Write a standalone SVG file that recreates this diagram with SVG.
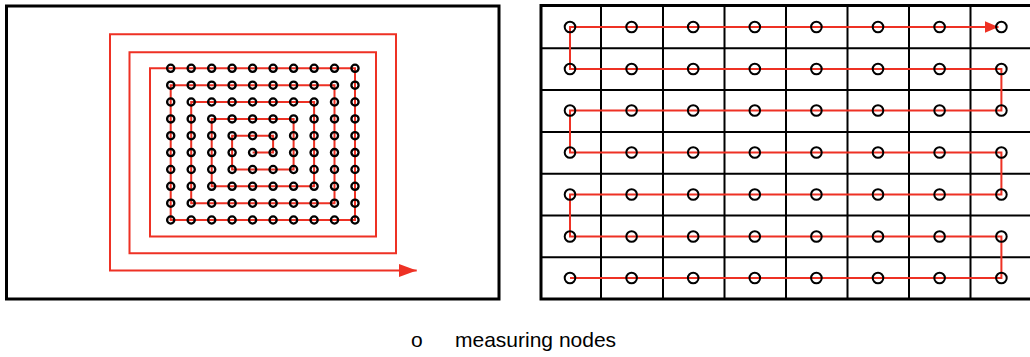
<svg xmlns="http://www.w3.org/2000/svg" xmlns:xlink="http://www.w3.org/1999/xlink" width="1030" height="357" viewBox="0 0 1030 357">
  <style>
    .frame { fill: none; stroke: #000; stroke-width: 3; }
    .grid { fill: none; stroke: #000; stroke-width: 2; }
    .route { fill: none; stroke: #ee3124; stroke-width: 2; stroke-linejoin: miter; }
    .node-s { fill: none; stroke: #000; stroke-width: 2.3; }
    .node-l { fill: none; stroke: #000; stroke-width: 2; }
    .legend { font-family: "Liberation Sans", Arial, Helvetica, sans-serif; font-size: 21px; fill: #000; }
  </style>
  <defs>
    <marker id="arrow-lg" markerUnits="userSpaceOnUse" markerWidth="19" markerHeight="13" refX="18" refY="6.5" orient="auto">
      <path d="M0,0 L18,6.5 L0,13 Z" fill="#ee3124"/>
    </marker>
    <marker id="arrow-sm" markerUnits="userSpaceOnUse" markerWidth="15" markerHeight="12" refX="14" refY="6" orient="auto">
      <path d="M0,0 L14,6 L0,12 Z" fill="#ee3124"/>
    </marker>
    <!-- one row of the 10x10 spiral measurement grid -->
    <g id="spiral-row">
      <circle class="node-s" cx="170.7" cy="0" r="3.6"/>
      <circle class="node-s" cx="191.2" cy="0" r="3.6"/>
      <circle class="node-s" cx="211.7" cy="0" r="3.6"/>
      <circle class="node-s" cx="232.1" cy="0" r="3.6"/>
      <circle class="node-s" cx="252.6" cy="0" r="3.6"/>
      <circle class="node-s" cx="273.1" cy="0" r="3.6"/>
      <circle class="node-s" cx="293.6" cy="0" r="3.6"/>
      <circle class="node-s" cx="314.1" cy="0" r="3.6"/>
      <circle class="node-s" cx="334.5" cy="0" r="3.6"/>
      <circle class="node-s" cx="355.0" cy="0" r="3.6"/>
    </g>
    <!-- one row of the 8-column cell grid -->
    <g id="cell-row">
      <circle class="node-l" cx="570" cy="0" r="5.3"/>
      <circle class="node-l" cx="631.6" cy="0" r="5.3"/>
      <circle class="node-l" cx="693.2" cy="0" r="5.3"/>
      <circle class="node-l" cx="754.8" cy="0" r="5.3"/>
      <circle class="node-l" cx="816.4" cy="0" r="5.3"/>
      <circle class="node-l" cx="878" cy="0" r="5.3"/>
      <circle class="node-l" cx="939.6" cy="0" r="5.3"/>
      <circle class="node-l" cx="1001.4" cy="0" r="5.3"/>
    </g>
  </defs>

  <rect width="1030" height="357" fill="#fff"/>

  <!-- left panel: spiral scan -->
  <g id="spiral-panel">
    <rect class="frame" x="6.5" y="6" width="492.5" height="293"/>
  </g>

  <!-- right panel: cell grid, open on the right edge -->
  <g id="grid-panel">
    <path class="grid" d="M541,48.3 H1030 M541,90.1 H1030 M541,131.9 H1030 M541,173.7 H1030 M541,215.5 H1030 M541,257.3 H1030
                          M601,5.5 V299 M663,5.5 V299 M724.5,5.5 V299 M786,5.5 V299 M847.5,5.5 V299 M909,5.5 V299 M970.5,5.5 V299"/>
    <path class="frame" d="M1032,5.5 H541 V299 H1032"/>
  </g>

  <g id="connectors">
    <!-- spiral route, from the centre node outwards -->
    <path class="route" marker-end="url(#arrow-lg)"
          d="M252.6,152.6 H273.1 V135.7 H232.1 V169.5 H293.6 V118.9 H211.7 V186.3 H314.1 V102.0 H191.2 V203.2 H334.5 V85.2 H170.7 V220.0 H355.0 V68.3 H150 V236.5 H376 V52.3 H129.5 V253.3 H396 V34.3 H110 V270.5 H416.7"/>
    <!-- serpentine route, bottom row upwards -->
    <path class="route" marker-end="url(#arrow-sm)"
          d="M570,278 H1001.4 V236.5 H570 V194.5 H1001.4 V152.5 H570 V110.5 H1001.4 V69 H570 V27 H998.5"/>
  </g>

  <g id="spiral-nodes">
    <use xlink:href="#spiral-row" y="68.3"/>
    <use xlink:href="#spiral-row" y="85.2"/>
    <use xlink:href="#spiral-row" y="102.0"/>
    <use xlink:href="#spiral-row" y="118.9"/>
    <use xlink:href="#spiral-row" y="135.7"/>
    <use xlink:href="#spiral-row" y="152.6"/>
    <use xlink:href="#spiral-row" y="169.5"/>
    <use xlink:href="#spiral-row" y="186.3"/>
    <use xlink:href="#spiral-row" y="203.2"/>
    <use xlink:href="#spiral-row" y="220.0"/>
  </g>

  <g id="cell-nodes">
    <use xlink:href="#cell-row" y="27"/>
    <use xlink:href="#cell-row" y="69"/>
    <use xlink:href="#cell-row" y="110.5"/>
    <use xlink:href="#cell-row" y="152.5"/>
    <use xlink:href="#cell-row" y="194.5"/>
    <use xlink:href="#cell-row" y="236.5"/>
    <use xlink:href="#cell-row" y="278"/>
  </g>

  <g id="legend">
    <text class="legend" x="411" y="347">o</text>
    <text class="legend" x="455" y="347">measuring nodes</text>
  </g>
</svg>
